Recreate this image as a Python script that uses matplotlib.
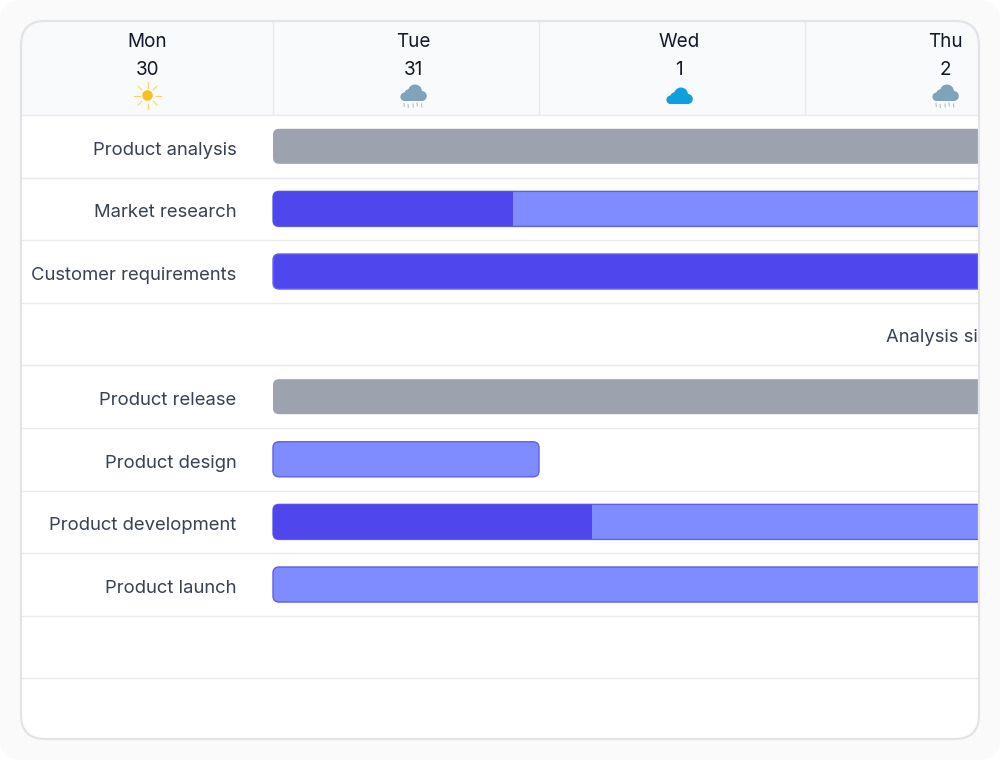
import matplotlib
matplotlib.use("Agg")
import matplotlib.pyplot as plt
from matplotlib.patches import FancyBboxPatch, Rectangle, Circle

plt.rcParams['font.family'] = ['Inter', 'DejaVu Sans']

# data: days are counted from the start of Monday's bar column
day_names = ['Mon', 'Tue', 'Wed', 'Thu']
day_numbers = ['30', '31', '1', '2']
weather = ['sun', 'rain', 'cloud', 'rain']

tasks = ['Product analysis', 'Market research', 'Customer requirements', '',
         'Product release', 'Product design', 'Product development', 'Product launch', '']
task_start = [0, 0, 0, None, 0, 0, 0, 0, None]
task_end = [4, 4, 4, None, 4, 1.0, 4, 4, None]
task_done = [0, 0.902, 4, None, 0, 0, 1.2, 0, None]
task_kind = ['summary', 'task', 'task', None, 'summary', 'task', 'task', 'task', None]
milestone_name = 'Analysis signoff'
milestone_row = 3
milestone_day = 2.305

GRAY = '#9ca3af'
DARK = '#5046ee'
LIGHT = '#7f8cff'
EDGE = '#5f5fe6'
LINE = '#e8eaed'

fig = plt.figure(figsize=(10, 7.6), dpi=100, facecolor='white')

# page frame, in pixels
frame = fig.add_axes([0, 0, 1, 1], zorder=1)
frame.set_xlim(0, 1000)
frame.set_ylim(760, 0)
frame.axis('off')
frame.add_patch(FancyBboxPatch((0, 0), 1000, 760, boxstyle='round,pad=0,rounding_size=22',
                               fc='#fafafa', ec='none'))
panel = FancyBboxPatch((21, 21), 958, 718, boxstyle='round,pad=0,rounding_size=24',
                       fc='white', ec='none')
frame.add_patch(panel)
head = Rectangle((21, 21), 958, 94, fc='#f8fafc', ec='none')
frame.add_patch(head)
head.set_clip_path(panel)

# gantt, days on x and rows on y
DAY = 266.0
ROW = 62.6
X0 = 273.0
Y0 = 146.3
ax = fig.add_axes([0, 0, 1, 1], zorder=2)
ax.patch.set_alpha(0)
ax.set_xlim(-X0 / DAY, (1000 - X0) / DAY)
ax.set_ylim((760 - Y0) / ROW, -Y0 / ROW)
ax.axis('off')
clip = Rectangle((21, 21), 957, 718, transform=frame.transData)
ASPECT = DAY / ROW
RADIUS = 6 / DAY
BAR_H = 0.56


def bar(start, end, row, fc, ec):
    p = FancyBboxPatch((start, row - BAR_H / 2), end - start, BAR_H,
                       boxstyle=f'round,pad=0,rounding_size={RADIUS}',
                       mutation_aspect=ASPECT, fc=fc, ec=ec, lw=1.0)
    ax.add_patch(p)
    p.set_clip_path(clip)
    return p


for i in range(10):
    line, = ax.plot([-252 / DAY, 3], [i - 0.5, i - 0.5], color=LINE, lw=1.0,
                    solid_capstyle='butt')
    line.set_clip_path(clip)
for d in [0, 1, 2]:
    ax.plot([d, d], [-0.5 - 94 / ROW, -0.5], color=LINE, lw=1.0, solid_capstyle='butt')

for i, (name, number) in enumerate(zip(day_names, day_numbers)):
    ax.text(i - 0.473, -1.67, name, ha='center', va='center', fontsize=13.6, color='#111827')
    ax.text(i - 0.473, -1.22, number, ha='center', va='center', fontsize=13.6, color='#111827')

for row, name in enumerate(tasks):
    if name:
        ax.text(-0.137, row + 0.06, name, ha='right', va='center', fontsize=13.3, color='#374151')
    if task_start[row] is None:
        continue
    if task_kind[row] == 'summary':
        bar(task_start[row], task_end[row], row, GRAY, 'none')
    elif task_done[row] >= task_end[row]:
        bar(task_start[row], task_end[row], row, DARK, '#6a63f0')
    else:
        shell = bar(task_start[row], task_end[row], row, LIGHT, EDGE)
        if task_done[row] > 0:
            done = Rectangle((task_start[row], row - BAR_H / 2), task_done[row], BAR_H,
                             fc=DARK, ec='none')
            ax.add_patch(done)
            done.set_clip_path(shell.get_path(), shell.get_transform())

t = ax.text(milestone_day, milestone_row + 0.06, milestone_name, ha='left', va='center',
            fontsize=13.3, color='#374151', clip_on=True)
t.set_clip_path(clip)

# weather icons, in pixels
def sun(cx, cy):
    frame.add_patch(Circle((cx, cy), 5.3, fc='#fbbf24', ec='none', zorder=5))
    for dx, dy in [(1, 0), (-1, 0), (0, 1), (0, -1)]:
        frame.plot([cx + 8 * dx, cx + 13.2 * dx], [cy + 8 * dy, cy + 13.2 * dy],
                   color='#fcd266', lw=0.8, zorder=5)
    for dx, dy in [(1, 1), (-1, 1), (1, -1), (-1, -1)]:
        frame.plot([cx + 5.8 * dx, cx + 9.3 * dx], [cy + 5.8 * dy, cy + 9.3 * dy],
                   color='#fcd266', lw=0.8, zorder=5)


def cloud(cx, top, color, rain=False):
    frame.add_patch(Circle((cx + 1.5, top + 7), 7, fc=color, ec='none', zorder=5))
    frame.add_patch(Circle((cx - 4.5, top + 9.5), 4.8, fc=color, ec='none', zorder=5))
    frame.add_patch(Circle((cx + 8.3, top + 11.5), 5, fc=color, ec='none', zorder=5))
    frame.add_patch(Circle((cx - 8.8, top + 12.3), 4.3, fc=color, ec='none', zorder=5))
    frame.add_patch(Rectangle((cx - 8.8, top + 10), 17, 6.6, fc=color, ec='none', zorder=5))
    if rain:
        for dx, y0 in [(-9.5, 19), (-5.5, 20), (-0.5, 19.5), (3.5, 18.5), (8, 19.5)]:
            frame.plot([cx + dx, cx + dx + 0.3], [top + y0, top + y0 + 3],
                       color='#a3b9c7', lw=0.7, zorder=5)


centers = [147.5, 414, 680, 946]
for cx, kind in zip(centers, weather):
    if kind == 'sun':
        sun(cx, 95.5)
    elif kind == 'rain':
        cloud(cx - 0.5, 84.5, '#7ea3ba', rain=True)
    else:
        cloud(cx - 0.5, 87.5, '#0f9fdc')

# panel border on top of everything
frame_top = fig.add_axes([0, 0, 1, 1], zorder=3)
frame_top.patch.set_alpha(0)
frame_top.set_xlim(0, 1000)
frame_top.set_ylim(760, 0)
frame_top.axis('off')
frame_top.add_patch(FancyBboxPatch((21, 21), 958, 718, boxstyle='round,pad=0,rounding_size=24',
                                   fc='none', ec='#e2e4e7', lw=1.6))

fig.savefig('out.png', dpi=100)
